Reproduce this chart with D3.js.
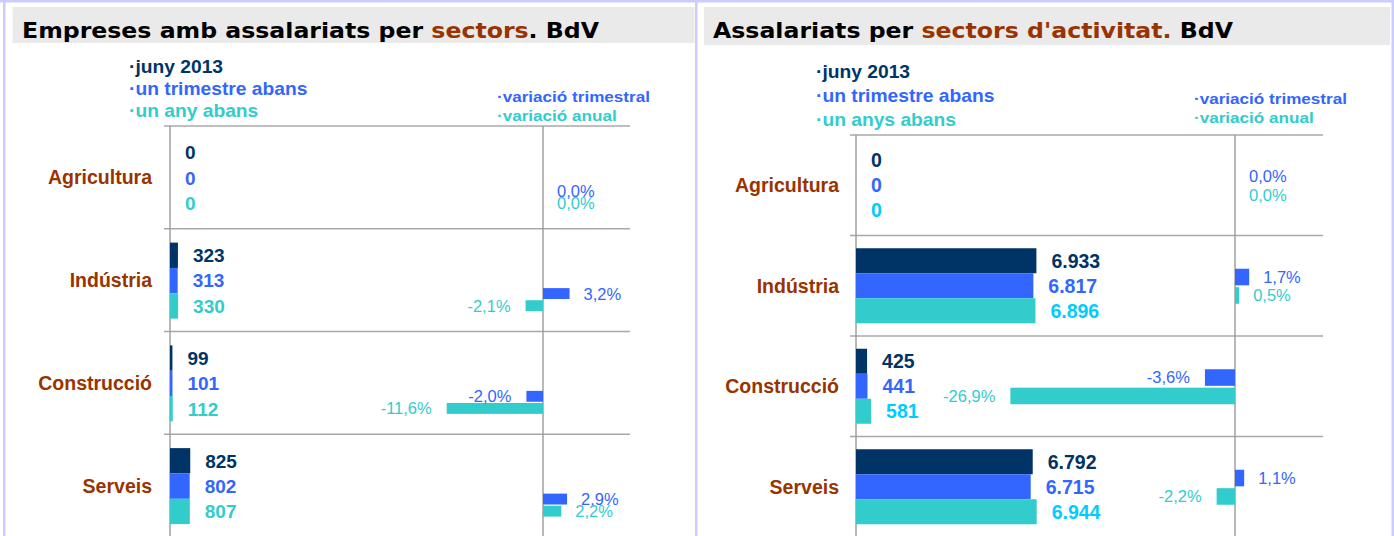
<!DOCTYPE html>
<html><head><meta charset="utf-8">
<script src="https://cdn.jsdelivr.net/npm/d3@7"></script>
<style>body{margin:0;background:#fff}svg{display:block}</style>
</head><body><svg id="c" width="1394" height="536"></svg>
<script>
// ---- data ----
const categories = ["Agricultura", "Indústria", "Construcció", "Serveis"];
const seriesNames = ["juny 2013", "un trimestre abans", "un any abans"];
const seriesNamesRight = ["juny 2013", "un trimestre abans", "un anys abans"];
const varNames = ["variació trimestral", "variació anual"];

const empJun2013 = [0, 323, 99, 825];
const empPrevQuarter = [0, 313, 101, 802];
const empPrevYear = [0, 330, 112, 807];
const empVarQuarter = [0.0, 3.2, -2.0, 2.9];
const empVarYear = [0.0, -2.1, -11.6, 2.2];

const salJun2013 = [0, 6933, 425, 6792];
const salPrevQuarter = [0, 6817, 441, 6715];
const salPrevYear = [0, 6896, 581, 6944];
const salVarQuarter = [0.0, 1.7, -3.6, 1.1];
const salVarYear = [0.0, 0.5, -26.9, -2.2];

// ---- formatting ----
const loc = d3.formatLocale({decimal: ",", thousands: ".", grouping: [3], currency: ["", "€"], minus: "-"});
const fmtInt = loc.format(",d");
const fmtPct1 = loc.format(".1f");
const fmtPct = v => fmtPct1(v) + "%";

const C_NAVY = "#003366", C_BLUE = "#3366ff", C_TEAL = "#33cccc", C_BROWN = "#993300";
const svg = d3.select("#c");

svg.append("rect").attr("width", 1394).attr("height", 536).attr("fill", "#fff");
// frame
const frame = svg.append("g").attr("fill", "#ccccff");
frame.append("rect").attr("x", 0).attr("y", 0).attr("width", 1394).attr("height", 2.5);
frame.append("rect").attr("x", 3).attr("y", 0).attr("width", 2.5).attr("height", 536);
frame.append("rect").attr("x", 695).attr("y", 0).attr("width", 2.5).attr("height", 536);
frame.append("rect").attr("x", 1391.5).attr("y", 0).attr("width", 2.5).attr("height", 536);

function stretchedText(parent, x, y, sx) {
  return parent.append("g").attr("transform", `translate(${x},${y}) scale(${sx},1)`)
    .append("text").attr("x", 0).attr("y", 0);
}

function panel(cfg) {
  const g = svg.append("g");
  // title band
  g.append("rect").attr("x", cfg.band[0]).attr("y", 7).attr("width", cfg.band[1] - cfg.band[0])
    .attr("height", cfg.bandH).attr("fill", "#eaeaea");
  const t = g.append("text").attr("x", cfg.titleX).attr("y", 37.5)
    .attr("font-family", "DejaVu Sans").attr("font-weight", "bold").attr("font-size", 20.5)
    .attr("textLength", cfg.titleLen).attr("lengthAdjust", "spacingAndGlyphs");
  cfg.title.forEach(p => t.append("tspan").attr("fill", p[1]).text(p[0]));

  // legends
  const serColors = [C_NAVY, C_BLUE, C_TEAL];
  cfg.names.forEach((n, i) => {
    stretchedText(g, cfg.legX, cfg.legY + i * cfg.legStep, 1.1)
      .attr("font-family", "Liberation Sans").attr("font-weight", "bold").attr("font-size", 17.5)
      .attr("fill", serColors[i]).text("·" + n);
  });
  varNames.forEach((n, i) => {
    stretchedText(g, cfg.vlegX, cfg.vlegY + i * 19, 1.14)
      .attr("font-family", "Liberation Sans").attr("font-weight", "bold").attr("font-size", 15)
      .attr("fill", i === 0 ? C_BLUE : C_TEAL).text("·" + n);
  });

  const y = d3.scaleBand().domain(categories).range(cfg.yRange);
  const yIn = d3.scaleBand().domain([0, 1, 2]).range(cfg.barRange);
  const yVar = d3.scaleBand().domain([0, 1]).range(cfg.varBarRange).paddingInner(0.1);
  const x = d3.scaleLinear().domain([0, cfg.mainMax]).range([cfg.x0, cfg.xv]);
  const xv = d3.scaleLinear().domain(cfg.varDomain).range(cfg.varRange);
  const center = c => y(c) + y.bandwidth() / 2;

  // gridlines
  const bounds = categories.map(c => y(c));
  g.selectAll(".grid").data(bounds).join("line")
    .attr("x1", cfg.gridX[0]).attr("x2", cfg.gridX[1])
    .attr("y1", d => d).attr("y2", d => d)
    .attr("stroke", "#a8a8a8").attr("stroke-width", 1.6);
  // axis lines
  [x(0), xv(0)].forEach(px => {
    g.append("line").attr("x1", px).attr("x2", px).attr("y1", cfg.yRange[0]).attr("y2", 536)
      .attr("stroke", "#9a9a9a").attr("stroke-width", 1.4);
  });

  // category labels
  g.selectAll(".cat").data(categories).join("text")
    .attr("x", cfg.catX).attr("y", c => center(c)).attr("dy", "0.36em")
    .attr("text-anchor", "end").attr("font-family", "Liberation Sans").attr("font-weight", "bold")
    .attr("font-size", 19.5).attr("fill", C_BROWN).text(c => c);

  // main bars
  const series = cfg.series;
  const labColors = [C_NAVY, C_BLUE, cfg.thirdLabel];
  const flat = [];
  categories.forEach((c, ci) => series.forEach((s, si) => flat.push({c, si, v: s[ci]})));
  g.selectAll(".bar").data(flat.filter(d => d.v > 0)).join("rect")
    .attr("x", x(0)).attr("y", d => center(d.c) + yIn(d.si))
    .attr("width", d => x(d.v) - x(0)).attr("height", yIn.bandwidth())
    .attr("fill", d => serColors[d.si]);
  g.selectAll(".val").data(flat).join("text")
    .attr("x", d => x(d.v) + 15).attr("y", d => center(d.c) + yIn(d.si) + yIn.bandwidth() / 2)
    .attr("dy", "0.36em").attr("font-family", "Liberation Sans").attr("font-weight", "bold")
    .attr("font-size", cfg.valSize).attr("fill", d => labColors[d.si]).text(d => fmtInt(d.v));

  // variation bars
  const vflat = [];
  categories.forEach((c, ci) => cfg.vars.forEach((s, si) => vflat.push({c, si, v: s[ci]})));
  const varColors = [C_BLUE, C_TEAL];
  g.selectAll(".vbar").data(vflat.filter(d => d.v !== 0)).join("rect")
    .attr("x", d => Math.min(xv(0), xv(d.v))).attr("y", d => center(d.c) + yVar(d.si))
    .attr("width", d => Math.abs(xv(d.v) - xv(0))).attr("height", yVar.bandwidth())
    .attr("fill", d => varColors[d.si]);
  g.selectAll(".vlab").data(vflat).join("text")
    .attr("x", d => d.v >= 0 ? xv(d.v) + 14 : xv(d.v) - 15)
    .attr("text-anchor", d => d.v >= 0 ? "start" : "end")
    .attr("y", d => center(d.c) + yVar(d.si) + yVar.bandwidth() / 2).attr("dy", "0.36em")
    .attr("font-family", "Liberation Sans").attr("font-size", 16.5)
    .attr("fill", d => varColors[d.si]).text(d => fmtPct(d.v));
}

panel({
  band: [12.5, 694.5], bandH: 36, titleX: 22, titleLen: 577,
  title: [["Empreses amb assalariats per ", "#000"], ["sectors", C_BROWN], [". BdV", "#000"]],
  names: seriesNames, legX: 129, legY: 72.5, legStep: 22,
  vlegX: 497, vlegY: 101.5,
  yRange: [126, 537], barRange: [-37.5, 38.5], varBarRange: [8, 31],
  mainMax: 15200, x0: 170, xv: 543,
  varDomain: [-20, 10], varRange: [377, 626],
  gridX: [164, 630], catX: 152, valSize: 19, thirdLabel: C_TEAL,
  series: [empJun2013, empPrevQuarter, empPrevYear],
  vars: [empVarQuarter, empVarYear]
});

panel({
  band: [704, 1390], bandH: 38, titleX: 713, titleLen: 520,
  title: [["Assalariats per ", "#000"], ["sectors d'activitat.", C_BROWN], [" BdV", "#000"]],
  names: seriesNamesRight, legX: 816, legY: 78, legStep: 24,
  vlegX: 1194, vlegY: 104,
  yRange: [135, 537], barRange: [-37.5, 37.5], varBarRange: [-17, 18],
  mainMax: 14566, x0: 856, xv: 1235,
  varDomain: [-30, 10], varRange: [984.5, 1318.5],
  gridX: [850, 1323], catX: 839, valSize: 19.5, thirdLabel: "#00ccff",
  series: [salJun2013, salPrevQuarter, salPrevYear],
  vars: [salVarQuarter, salVarYear]
});
</script></body></html>
